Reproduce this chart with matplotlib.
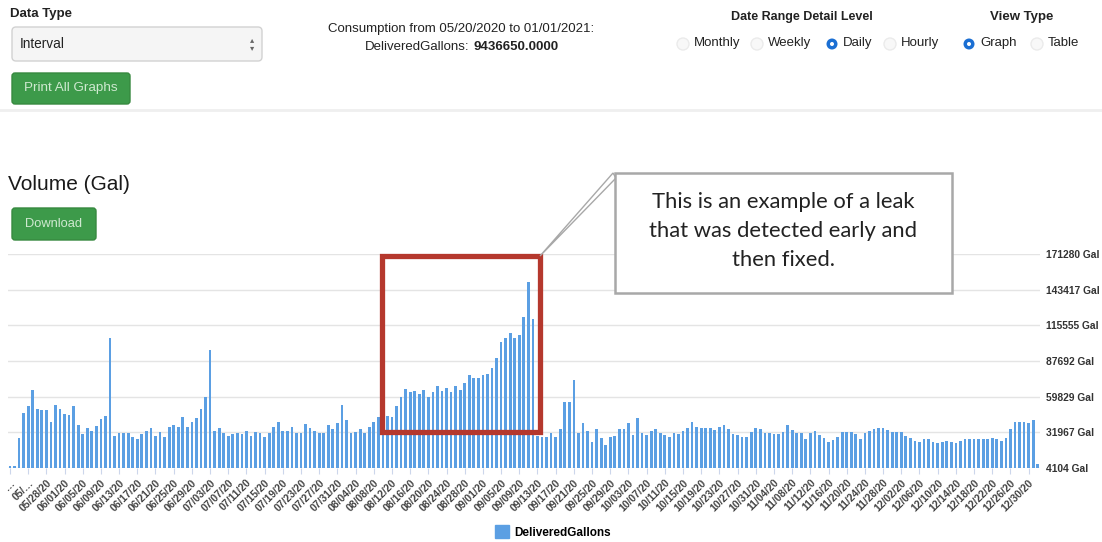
import numpy as np
import matplotlib.pyplot as plt
import pandas as pd
from matplotlib.patches import Rectangle, FancyBboxPatch, Polygon, Circle, Patch

plt.rcParams['font.family'] = ['Liberation Sans', 'DejaVu Sans']

# daily delivered gallons, 05/20/2020 .. 01/01/2021
gallons_may_aug = [5500, 5500, 27300, 46900, 52600, 64700, 50500, 49300, 49800, 39700,
                   53400, 50300, 46400, 45400, 52900, 37900, 30700, 35100, 33000, 36900,
                   42000, 45100, 105500, 29100, 31200, 31200, 31700, 28100, 26800, 30700,
                   33300, 35300, 29400, 32500, 28100, 35800, 37600, 35800, 43800, 35800,
                   40200, 43300, 50500, 59600, 96500, 33000, 35100, 31200, 29100, 30700,
                   31700, 30700, 33300, 29400, 32200, 31200, 28100, 31700, 35800, 40000,
                   33000, 33000, 35800, 31200, 31200, 38400, 35300, 33000, 31700, 31700,
                   37900, 34300, 39400, 53100, 41500]
gallons_aug_oct = [31800, 32300, 34900, 31800, 36500, 40200, 44100, 42000, 45000, 44100,
                   52800, 59600, 65900, 63200, 64500, 61900, 65100, 59800, 63200, 67900,
                   64500, 66400, 63200, 67900, 65300, 70600, 76900, 74200, 74200, 76900,
                   77400, 82100, 90000, 102500, 105700, 109600, 105900, 107800, 121900, 149500,
                   120400, 29200, 28700, 28700, 31800, 28700, 34400, 55400, 55900, 72900,
                   31800, 39100, 33100, 24500, 34900, 27900, 22100, 28400, 29200, 34900,
                   34900, 39100, 29700, 43400, 31300, 30000, 33100, 34900, 31800, 30000,
                   28700, 31300, 30500, 33100, 35700, 40200, 36500]
gallons_oct_jan = [35100, 35100, 35100, 33800, 36400, 37400, 34800, 30400, 29600, 28400,
                   28400, 32200, 35600, 34300, 31200, 31200, 30900, 30900, 32200, 37600,
                   33500, 31700, 31200, 27100, 31700, 33000, 29600, 27800, 24700, 26000,
                   28600, 32200, 32200, 32200, 30400, 26500, 31200, 33000, 34800, 35600,
                   35100, 33500, 32500, 32200, 32200, 29100, 27300, 25300, 24700, 27100,
                   27100, 24700, 23400, 24700, 25300, 24500, 23400, 25300, 27100, 27100,
                   27100, 27100, 27100, 27100, 27300, 27100, 25300, 27800, 34800, 39900,
                   39900, 39900, 39400, 41300, 7200]
gallons = gallons_may_aug + gallons_aug_oct + gallons_oct_jan

dates = pd.date_range('2020-05-20', '2021-01-01', freq='D')
ytick_vals = [4104, 31967, 59829, 87692, 115555, 143417, 171280]
xtick_labels = list(dates[::4].strftime('%m/%d/%y'))
xtick_labels[0] = '\u2026'
xtick_labels[1] = '05/\u2026'

W, H = 1102, 542
fig = plt.figure(figsize=(W / 100, H / 100), dpi=100)

# bar chart
ax = fig.add_axes([7.7 / W, 1 - 468 / H, 1032.3 / W, 214 / H])
x = np.arange(len(gallons))
ax.bar(x, gallons, width=0.6, color='#5b9fe3', zorder=2)
ax.set_xlim(-0.5, len(gallons) - 0.5)
ax.set_ylim(4104, 171280)
ax.yaxis.tick_right()
ax.set_yticks(ytick_vals)
ax.set_yticklabels([f'{v} Gal' for v in ytick_vals], fontsize=7.4, fontweight='bold', color='#333333')
ax.tick_params(axis='y', length=0, pad=4.5)
ax.grid(axis='y', color='#e4e4e4', lw=1, zorder=0)
for s in ax.spines.values():
    s.set_visible(False)
ax.set_xticks(x[::4])
ax.set_xticklabels(xtick_labels, rotation=45, ha='right', rotation_mode='anchor',
                   fontsize=7.5, fontweight='bold', color='#444444')
ax.tick_params(axis='x', length=4, color='#ccd6eb', pad=3)

# red box around the leak
ax.add_patch(Rectangle((81.9, 31967), 34.6, 137700, fill=False, edgecolor='#b5382d',
                       lw=3.8, clip_on=False, zorder=4))

fig.legend(handles=[Patch(color='#5b9fe3', label='DeliveredGallons')], loc='center',
           bbox_to_anchor=(553 / W, 1 - 532 / H), frameon=False, handlelength=1.2,
           handleheight=1.2, handletextpad=0.5, prop={'size': 8.5, 'weight': 'bold'})

# overlay in pixel coordinates for the page furniture
ov = fig.add_axes([0, 0, 1, 1], zorder=5)
ov.set_xlim(0, W)
ov.set_ylim(H, 0)
ov.axis('off')
ov.patch.set_alpha(0)

ov.plot([0, W], [110, 110], color='#efefef', lw=2)

ov.text(10, 14, 'Data Type', fontsize=9.5, fontweight='bold', color='#222222', va='center')
ov.add_patch(FancyBboxPatch((12, 27), 250, 34, boxstyle='round,pad=0,rounding_size=4',
                            facecolor='#f5f5f5', edgecolor='#d2d2d2', lw=1))
ov.text(20, 44, 'Interval', fontsize=9.8, color='#222222', va='center')
ov.text(252, 40, '\u25b4', fontsize=6, color='#666666', ha='center', va='center', family='DejaVu Sans')
ov.text(252, 48, '\u25be', fontsize=6, color='#666666', ha='center', va='center', family='DejaVu Sans')


def button(x0, y0, w, h, label, size):
    ov.add_patch(FancyBboxPatch((x0, y0), w, h, boxstyle='round,pad=0,rounding_size=3',
                                facecolor='#3d9a4a', edgecolor='#37893f', lw=1))
    ov.text(x0 + w / 2, y0 + h / 2, label, fontsize=size, color='#cfe9d0', ha='center', va='center')


button(12, 73, 118, 31, 'Print All Graphs', 9.7)
button(12, 208, 84, 32, 'Download', 9.3)

ov.text(461, 29, 'Consumption from 05/20/2020 to 01/01/2021:', fontsize=9.5, color='#222222',
        ha='center', va='center')
ov.text(469, 47, 'DeliveredGallons:', fontsize=9.5, color='#222222', ha='right', va='center')
ov.text(473, 47, '9436650.0000', fontsize=9.5, fontweight='bold', color='#222222',
        ha='left', va='center')

ov.text(802, 17, 'Date Range Detail Level', fontsize=9, fontweight='bold', color='#222222',
        ha='center', va='center')
ov.text(1022, 17, 'View Type', fontsize=9.5, fontweight='bold', color='#222222',
        ha='center', va='center')

radios = [(683, 'Monthly', False), (757, 'Weekly', False), (832, 'Daily', True),
          (890, 'Hourly', False), (969, 'Graph', True), (1037, 'Table', False)]
for cx, lab, sel in radios:
    if sel:
        ov.add_patch(Circle((cx, 44), 5.5, facecolor='#1b6fd3', edgecolor='none'))
        ov.add_patch(Circle((cx, 44), 2, facecolor='white', edgecolor='none'))
    else:
        ov.add_patch(Circle((cx, 44), 6, facecolor='#f8f8f8', edgecolor='#ebebeb', lw=1))
    ov.text(cx + 11, 43, lab, fontsize=9.5, color='#222222', va='center')

ov.text(8, 185, 'Volume (Gal)', fontsize=15, color='#1a1a1a', va='center')

# callout
ov.add_patch(Polygon([(540, 256), (613, 173), (616, 178)], closed=True, facecolor='white',
                     edgecolor='#a8a8a8', lw=1, zorder=3))
ov.add_patch(Rectangle((615, 173), 337, 120, facecolor='white', edgecolor='#a8a8a8', lw=1.8, zorder=4))
for yy, line in zip([202, 231, 260], ['This is an example of a leak',
                                       'that was detected early and', 'then fixed.']):
    ov.text(783, yy, line, fontsize=15.8, family='Lato', color='#222222', ha='center',
            va='center', zorder=5)

fig.savefig('out.png', dpi=100)
